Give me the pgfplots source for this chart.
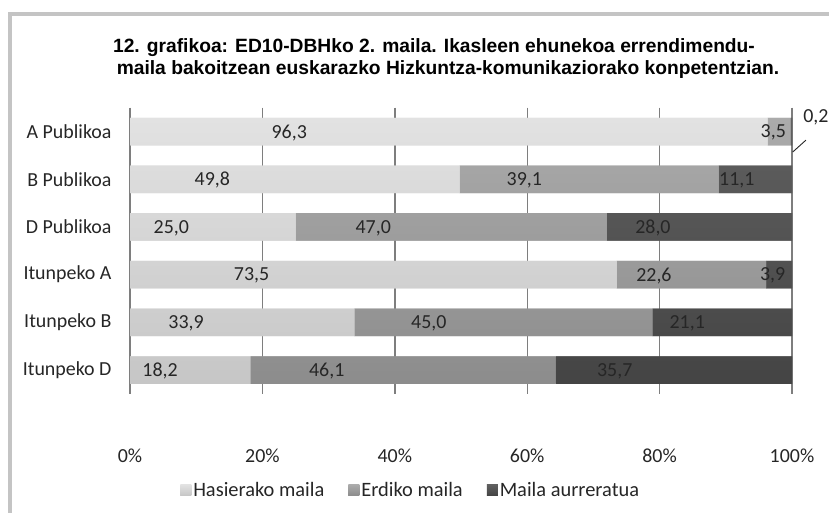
\documentclass[border=0pt]{standalone}
\usepackage{pgfplots}
\pgfplotsset{compat=1.18}
\usepackage{fontspec}
\setmainfont{Carlito}
\newfontfamily\titlefont{Liberation Sans}
\definecolor{cAt}{HTML}{E2E2E2}
\definecolor{cAb}{HTML}{C6C6C6}
\definecolor{cBt}{HTML}{ABABAB}
\definecolor{cBb}{HTML}{8C8C8C}
\definecolor{cCt}{HTML}{606060}
\definecolor{cCb}{HTML}{444444}
\definecolor{cA}{HTML}{D4D4D4}
\definecolor{cB}{HTML}{9C9C9C}
\definecolor{cC}{HTML}{525252}
\definecolor{txt}{HTML}{262626}
\definecolor{grd}{HTML}{7E7E7E}
\definecolor{frm}{HTML}{C4C4C4}
\begin{document}
\begin{tikzpicture}
\path[use as bounding box] (0,0) rectangle (829bp,513bp);
\fill[white] (0,0) rectangle (829bp,513bp);
\draw[frm, line width=4.5bp] (10bp,0) -- (10bp,499bp) -- (829bp,499bp);
\node[font=\titlefont\bfseries\fontsize{19.3}{22}\selectfont, text=black] at (434bp,465bp) {12. grafikoa: ED10-DBHko 2. maila. Ikasleen ehunekoa errendimendu-};
\node[font=\titlefont\bfseries\fontsize{19.3}{22}\selectfont, text=black] at (448bp,443bp) {maila bakoitzean euskarazko Hizkuntza-komunikaziorako konpetentzian.};
\begin{axis}[
  at={(130bp,119.1bp)}, anchor=south west,
  scale only axis, width=662bp, height=286.2bp,
  xbar stacked, bar width=27.5bp,
  xmin=0, xmax=100, ymin=-0.5, ymax=5.5, y dir=reverse,
  ytick={0,...,5},
  yticklabels={A Publikoa, B Publikoa, D Publikoa, Itunpeko A, Itunpeko B, Itunpeko D},
  xtick={0,20,...,100},
  xticklabel={\pgfmathprintnumber{\tick}\%},
  /pgf/number format/assume math mode=true,
  axis line style={draw=none},
  major tick length=0,
  xmajorgrids, grid style={grd, line width=1.4bp},
  xticklabel style={font=\fontsize{20}{24}\selectfont, text=txt, yshift=-51bp},
  yticklabel style={font=\fontsize{20}{24}\selectfont, text=txt, xshift=-15bp},
  clip=false,
  every node near coord/.append style={anchor=center, xshift={-1.66275*\myx pt}, yshift=-1bp, font=\fontsize{20}{24}\selectfont, text=txt},
  lbl/.style={
    visualization depends on={rawx \as \myx},
    nodes near coords={\ifdim\myx pt<1pt\relax\else\pgfmathprintnumber[fixed,fixed zerofill,precision=1,use comma]{\myx}\fi},
  },
  legend style={at={(axis description cs:0.424,-0.336)}, anchor=center, draw=none, fill=none,
    font=\fontsize{20.5}{24}\selectfont, text=txt,
    /tikz/every even column/.append style={column sep=22bp}},
  legend columns=3,
  legend image code/.code={\fill[#1] (0bp,-5.5bp) rectangle (11bp,5.5bp);},
]
\addplot[fill=cA, top color=cAt, bottom color=cAb, draw=none, lbl] coordinates {(96.3,0) (49.8,1) (25.0,2) (73.5,3) (33.9,4) (18.2,5)};
\addplot[fill=cB, top color=cBt, bottom color=cBb, draw=none, lbl] coordinates {(3.5,0) (39.1,1) (47.0,2) (22.6,3) (45.0,4) (46.1,5)};
\addplot[fill=cC, top color=cCt, bottom color=cCb, draw=none, lbl] coordinates {(0.2,0) (11.1,1) (28.0,2) (3.9,3) (21.1,4) (35.7,5)};
\legend{Hasierako maila, Erdiko maila, Maila aurreratua}
\draw[txt, line width=0.9bp] (axis cs:100.1,0.43) -- (axis cs:102.1,0.18);
\node[font=\fontsize{20}{24}\selectfont, text=txt] at (axis cs:103.6,-0.30) {0,2};
\end{axis}
\end{tikzpicture}
\end{document}
